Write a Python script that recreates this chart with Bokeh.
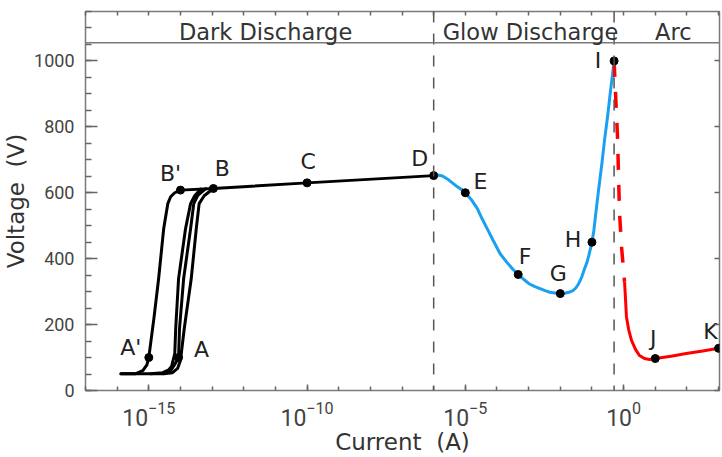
from bokeh.plotting import figure
from bokeh.models import (ColumnDataSource, Range1d, FixedTicker, LogTickFormatter,
                          LinearAxis, LogAxis, SingleIntervalTicker, Span, Label,
                          CustomJSTickFormatter)
from bokeh.embed import file_html
from bokeh.resources import INLINE
from bokeh.core.properties import value

# ---------------- data (log10 of current in A, voltage in V) ----------------
# Townsend / dark discharge curves
dark_left_logI = [-15.88, -15.41, -15.19, -15.06, -15.00, -14.84, -14.69, -14.53, -14.40, -14.31, -14.18, -14.00]
dark_left_V = [51, 51, 60, 78, 100, 218, 339, 491, 567, 588, 600, 608]

dark_r1_logI = [-15.88, -14.94, -14.56, -14.37, -14.28, -14.18, -14.15, -14.06, -13.84, -13.68, -13.55, -13.36]
dark_r1_V = [51, 51, 54, 63, 73, 112, 188, 339, 491, 567, 591, 611]

dark_r2_logI = [-14.94, -14.53, -14.31, -14.18, -14.06, -14.03, -13.90, -13.68, -13.58, -13.46, -13.21]
dark_r2_V = [51, 51, 60, 79, 100, 188, 339, 491, 567, 591, 612]

dark_r3_logI = [-14.53, -14.25, -14.09, -14.00, -13.88, -13.66, -13.50, -13.41, -13.25, -12.96]
dark_r3_V = [51, 54, 67, 91, 188, 339, 491, 567, 591, 613]

# saturation / Townsend line  B' - B - C - D
dark_main_logI = [-14.0, -12.96, -10.0, -6.0]
dark_main_V = [608, 613, 630, 652]

# glow discharge  D ... I
glow_logI = [-6.0, -5.88, -5.72, -5.57, -5.41, -5.25, -5.09, -5.0, -4.81, -4.62, -4.47, -4.31,
             -4.12, -3.90, -3.68, -3.49, -3.33, -3.14, -2.99, -2.80, -2.64, -2.48, -2.33, -2.17,
             -2.0, -1.86, -1.73, -1.60, -1.51, -1.42, -1.32, -1.23, -1.16, -1.10, -1.04, -1.0,
             -0.94, -0.88, -0.79, -0.69, -0.60, -0.50, -0.41, -0.35, -0.3]
glow_V = [652, 654, 651, 642, 630, 618, 608, 600, 579, 552, 521, 491,
          455, 415, 388, 367, 352, 336, 324, 315, 309, 303, 298, 296,
          294, 295, 298, 303, 311, 324, 345, 370, 388, 409, 433, 450,
          485, 536, 609, 685, 761, 836, 912, 958, 1000]

# glow-to-arc transition (dashed)
trans_logI = [-0.3, -0.19, -0.13, -0.06, 0.03]
trans_V = [1000, 764, 542, 430, 330]

# arc  ... J ... K
arc_logI = [0.03, 0.06, 0.09, 0.16, 0.25, 0.38, 0.50, 0.66, 0.82, 1.0, 1.5, 1.98, 2.5, 3.0]
arc_V = [330, 279, 224, 185, 152, 124, 106, 97, 94, 97, 104, 112, 120, 128]

# labelled points
pt_names = ["A'", "A", "B'", "B", "C", "D", "E", "F", "G", "H", "I", "J", "K"]
pt_logI = [-15.0, -14.06, -14.0, -12.96, -10.0, -6.0, -5.0, -3.33, -2.0, -1.0, -0.3, 1.0, 3.0]
pt_V = [100, 100, 608, 613, 630, 652, 600, 352, 294, 450, 1000, 97, 128]

# regions
region_names = ["Dark Discharge", "Glow Discharge", "Arc"]
region_bounds_logI = [-6.0, -0.3]

# ticks
x_major_exp = [-15, -10, -5, 0]
x_minor_exp = list(range(-17, 4))
y_interval = 200

# ---------------- figure ----------------
def tx(logs):
    return [10.0 ** v for v in logs]

p = figure(width=722, height=457, x_axis_type="log",
           x_range=Range1d(1e-17, 10 ** 3.03), y_range=Range1d(0, 1150),
           output_backend="svg", toolbar_location=None,
           min_border_left=84, min_border_right=0, min_border_top=11, min_border_bottom=65,
           x_axis_label="Current \u00a0(A)", y_axis_label="Voltage \u00a0(V)")
p.background_fill_color = "white"
p.border_fill_color = "white"
p.grid.visible = False
p.outline_line_color = "#7a7a7a"
p.outline_line_width = 1.5

TICK_FONT = "Roboto"
LABEL_FONT = "DejaVu Sans"

blank = CustomJSTickFormatter(code="return ' '")

# bottom axis
xa = p.xaxis[0]
xa.ticker = FixedTicker(ticks=[10.0 ** e for e in x_major_exp],
                        minor_ticks=[10.0 ** e for e in x_minor_exp])
xa.formatter = LogTickFormatter()
xa.axis_line_color = None
xa.major_tick_in = 6
xa.major_tick_out = 0
xa.minor_tick_in = 4
xa.minor_tick_out = 0
xa.major_tick_line_color = "#666666"
xa.minor_tick_line_color = "#666666"
xa.major_tick_line_width = 1.5
xa.minor_tick_line_width = 1.5
xa.major_label_text_font = TICK_FONT
xa.major_label_text_font_size = "23px"
xa.major_label_text_color = "#444444"
xa.major_label_standoff = 10
xa.axis_label_text_font = LABEL_FONT
xa.axis_label_text_font_size = "23px"
xa.axis_label_text_font_style = "normal"
xa.axis_label_text_color = "#333333"
xa.axis_label_standoff = 0

# left axis
ya = p.yaxis[0]
ya.ticker = SingleIntervalTicker(interval=y_interval, num_minor_ticks=4)
ya.axis_line_color = None
ya.major_tick_in = 12
ya.major_tick_out = 0
ya.minor_tick_in = 6
ya.minor_tick_out = 0
ya.major_tick_line_color = "#666666"
ya.minor_tick_line_color = "#666666"
ya.major_tick_line_width = 1.5
ya.minor_tick_line_width = 1.5
ya.major_label_text_font = TICK_FONT
ya.major_label_text_font_size = "18px"
ya.major_label_text_color = "#444444"
ya.major_label_standoff = 11
ya.axis_label_text_font = LABEL_FONT
ya.axis_label_text_font_size = "23px"
ya.axis_label_text_font_style = "normal"
ya.axis_label_text_color = "#333333"
ya.axis_label_standoff = 2

# top axis (ticks only)
top = LogAxis(ticker=FixedTicker(ticks=[10.0 ** e for e in x_minor_exp]),
              formatter=blank,
              axis_line_color=None, major_tick_in=4, major_tick_out=0,
              major_tick_line_color="#666666", major_tick_line_width=1.5,
              major_label_text_font_size="1px", major_label_standoff=0,
              minor_tick_line_color=None)
p.add_layout(top, "above")

# right axis (ticks only)
right = LinearAxis(ticker=SingleIntervalTicker(interval=y_interval, num_minor_ticks=0),
                   formatter=blank,
                   axis_line_color=None, major_tick_in=5, major_tick_out=0,
                   major_tick_line_color="#666666", major_tick_line_width=1.5,
                   major_label_text_font_size="1px", major_label_standoff=0,
                   minor_tick_line_color=None)
p.add_layout(right, "right")

# region separators and header band
for b in region_bounds_logI:
    p.add_layout(Span(location=10.0 ** b, dimension="height", line_color="#555555",
                      line_width=1.5, line_dash="11 11"))
p.add_layout(Span(location=1055, dimension="width", line_color="#7a7a7a", line_width=1.5))

header_pos_logI = [-11.31, -2.94, 1.57]
for name, lx in zip(region_names, header_pos_logI):
    p.add_layout(Label(x=10.0 ** lx, y=1088, text=name, text_align="center",
                       text_baseline="middle", text_font=LABEL_FONT,
                       text_font_size="22.5px", text_color="#333333"))

# curves
for xs, ys in [(dark_left_logI, dark_left_V), (dark_r1_logI, dark_r1_V),
               (dark_r2_logI, dark_r2_V), (dark_r3_logI, dark_r3_V),
               (dark_main_logI, dark_main_V)]:
    p.line(tx(xs), ys, line_color="black", line_width=3, line_join="round", line_cap="round")

p.line(tx(glow_logI), glow_V, line_color="#1aa0f0", line_width=3, line_join="round")
p.line(tx(trans_logI), trans_V, line_color="#ff0000", line_width=3.5, line_dash="16 15")
p.line(tx(arc_logI), arc_V, line_color="#ff0000", line_width=3, line_join="round")

# points and letters
label_dx = [-18, 23, -10, 9, 1, -14, 15, 7, -2, -19, -16, -2, -8]
label_dy = [-10, -8, -17, -20, -21, -17, -11, -18, -20, -3, 0, -20, -17]
src = ColumnDataSource(dict(x=tx(pt_logI), y=pt_V, name=pt_names, dx=label_dx, dy=label_dy))
p.scatter("x", "y", source=src, size=8, color="black")
p.text("x", "y", text="name", x_offset="dx", y_offset="dy", source=src,
       text_align="center", text_baseline="middle", text_font=value(LABEL_FONT),
       text_font_size="22px", text_color="#222222")

open("out.html", "w").write(file_html(p, INLINE))
